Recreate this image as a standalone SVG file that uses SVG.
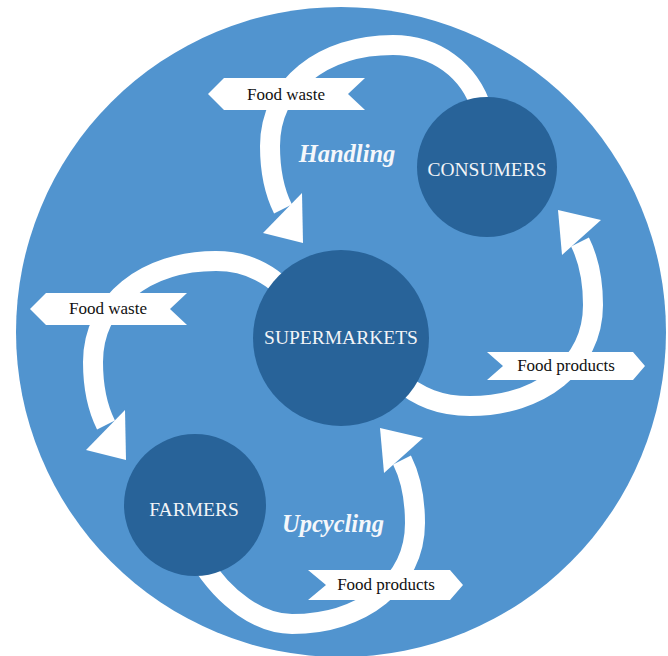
<svg xmlns="http://www.w3.org/2000/svg" width="668" height="656" viewBox="0 0 668 656">
  <style>
    .band { fill: none; stroke: #ffffff; stroke-width: 20; }
    .head { fill: #ffffff; }
    .tag { fill: #ffffff; }
    .tagtext { font-family: "Liberation Serif", "Times New Roman", serif; font-size: 17px; fill: #111111; text-anchor: middle; }
    .node { fill: #286399; }
    .nodetext { font-family: "Liberation Serif", "Times New Roman", serif; font-size: 19.5px; fill: #f2f4f7; text-anchor: middle; }
    .phase { font-family: "Liberation Serif", "Times New Roman", serif; font-size: 24.5px; font-weight: bold; font-style: italic; fill: #f4f7fb; text-anchor: middle; }
  </style>
  <rect width="668" height="656" fill="#ffffff"/>
  <circle id="background" cx="341" cy="332" r="325" fill="#5194cf"/>

  <g id="connectors">
    <g id="handling-waste">
      <path class="band" d="M 482,110 C 470,70 435,45 393,45 C 323,45 270,86 270,146 C 270,171 275,193 283,209"/>
      <polygon class="head" points="303,243 263,233 302,193"/>
    </g>
    <g id="upcycling-waste">
      <path class="band" d="M 305,326 C 293,286 258,261 216,261 C 146,261 93,302 93,362 C 93,387 98,409 106,425"/>
      <polygon class="head" points="126,460 86,450 125,410"/>
    </g>
    <g id="handling-products">
      <path class="band" d="M 395,378 C 420,398 440,406 470,406 C 540,406 593,365 593,305 C 593,280 588,258 580,242"/>
      <polygon class="head" points="558,210 601,220 562,255"/>
    </g>
    <g id="upcycling-products">
      <path class="band" d="M 200,560 C 225,600 260,624 292,624 C 362,624 415,583 415,523 C 415,498 410,476 402,460"/>
      <polygon class="head" points="380,428 423,438 384,473"/>
    </g>
    <g id="labels">
      <polygon class="tag" points="208,94 224,78 365,78 348,94 365,110 224,110"/>
      <text class="tagtext" x="286" y="100">Food waste</text>
      <polygon class="tag" points="30,309 46,293 187,293 170,309 187,325 46,325"/>
      <text class="tagtext" x="108" y="314">Food waste</text>
      <polygon class="tag" points="487,352 503,366 487,380 633,380 645,366 633,352"/>
      <text class="tagtext" x="566" y="371">Food products</text>
      <polygon class="tag" points="308,570 326,585 308,600 450,600 463,585 450,570"/>
      <text class="tagtext" x="386" y="590">Food products</text>
    </g>
  </g>

  <text class="phase" x="347" y="162">Handling</text>
  <text class="phase" x="333" y="532">Upcycling</text>

  <g id="consumers">
    <circle class="node" cx="487" cy="167" r="70"/>
    <text class="nodetext" x="487" y="176">CONSUMERS</text>
  </g>
  <g id="supermarkets">
    <circle class="node" cx="341" cy="338" r="88"/>
    <text class="nodetext" x="341" y="344">SUPERMARKETS</text>
  </g>
  <g id="farmers">
    <circle class="node" cx="195" cy="505" r="71"/>
    <text class="nodetext" x="194" y="516">FARMERS</text>
  </g>
</svg>
